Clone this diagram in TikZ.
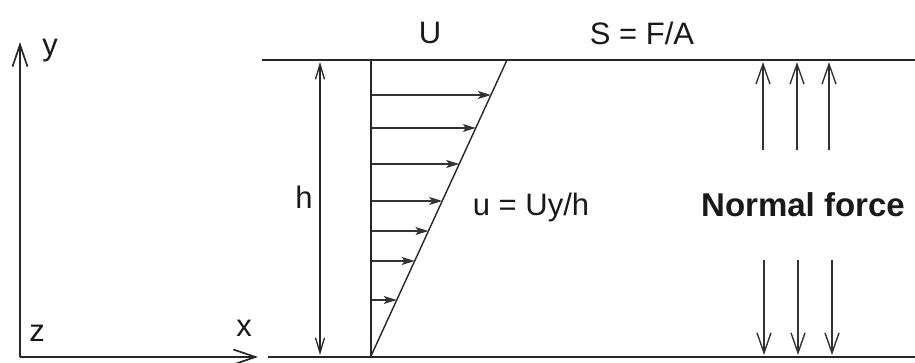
\documentclass[tikz,border=0pt]{standalone}
\usepackage{fontspec}
\setmainfont{Liberation Sans}
\usetikzlibrary{arrows.meta}
\begin{document}
\begin{tikzpicture}[x=1pt,y=-1pt,
  plate/.style={line width=2pt, black!85},
  axisline/.style={line width=1.8pt, black!85, -{Straight Barb[length=22pt,width=15pt,line width=1.7pt]}},
  forcearrow/.style={line width=1.4pt, black!80, -{Straight Barb[length=20pt,width=14pt,line width=1.4pt]}},
  velarrow/.style={line width=1.4pt, black!80, -{Stealth[length=13pt,width=8pt,inset=3pt]}},
  dimarrow/.style={line width=1.4pt, black!85, {Straight Barb[length=15pt,width=9pt,line width=1.3pt]}-{Straight Barb[length=15pt,width=9pt,line width=1.3pt]}},
  lbl/.style={font=\fontsize{31}{36}\selectfont, inner sep=0pt, text=black!90},
  boldlbl/.style={font=\fontsize{33}{38}\selectfont\bfseries, inner sep=0pt, text=black!90},
]
\useasboundingbox (0,0) rectangle (915,362);
% axes
\coordinate (O) at (20,357);
\coordinate (Ytip) at (20,42);
\coordinate (Xtip) at (258,357);
\draw[axisline] (O) -- (Ytip);
\draw[axisline] (O) -- (Xtip);
\node[lbl] (ylab) at (50,51) {y};
\node[lbl] (zlab) at (37,333) {z};
\node[lbl] (xlab) at (244,328) {x};
% plates
\coordinate (TL) at (262,60);
\coordinate (TR) at (915,60);
\coordinate (BL) at (268,357);
\coordinate (BR) at (915,357);
\draw[plate] (TL) -- (TR);
\draw[plate] (BL) -- (BR);
% h dimension
\coordinate (Htop) at (320,62);
\coordinate (Hbot) at (320,355);
\draw[dimarrow] (Htop) -- (Hbot);
\node[lbl] (hlab) at (304,197) {h};
% profile
\coordinate (P0) at (371,60);
\coordinate (P1) at (371,356);
\coordinate (S1) at (507,60);
\draw[line width=1.4pt, black!85] (P0) -- (P1);
\draw[line width=1.4pt, black!85] (P1) -- (S1);
\foreach \yy in {95,128,164,201,231,261,300}{
  \pgfmathsetmacro{\xt}{371+(356-\yy)/296*136}
  \coordinate (vs\yy) at (372,\yy);
  \coordinate (ve\yy) at (\xt,\yy);
  \draw[velarrow] (vs\yy) -- (ve\yy);
}
% labels
\node[lbl] (Ulab) at (430,33) {U};
\node[lbl] (Slab) at (642,33) {S = F/A};
\node[lbl] (ulab) at (531,207) {u = Uy/h};
\node[boldlbl] (nf) at (803,205) {Normal force};
% normal force arrows
\foreach \xx/\xd [count=\i] in {763/764,797/798,829/832}{
  \coordinate (us\i) at (\xx,150);
  \coordinate (ue\i) at (\xx,62);
  \draw[forcearrow] (us\i) -- (ue\i);
  \coordinate (ds\i) at (\xd,260);
  \coordinate (de\i) at (\xd,355);
  \draw[forcearrow] (ds\i) -- (de\i);
}
\end{tikzpicture}
\end{document}
